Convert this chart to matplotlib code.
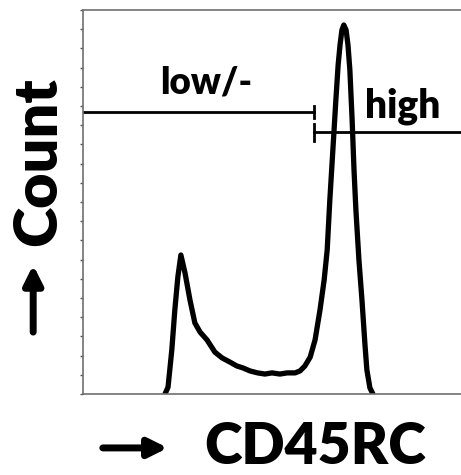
import numpy as np
import matplotlib
matplotlib.use("Agg")
import matplotlib.pyplot as plt

plt.rcParams['font.family'] = ['Lato', 'DejaVu Sans']

# Histogram trace (CD45RC channel vs count)
cd45rc = [217, 225, 235, 243, 251, 259, 270, 283, 296, 310, 328, 349, 368, 389,
          407, 423, 442, 462, 481, 500, 521, 540, 561, 574, 587, 601, 614, 627, 638, 646, 653,
          661, 669, 675, 680, 685, 690, 696, 701, 706, 712, 717, 722, 730, 738,
          746, 751, 759, 767]
count = [0, 1.8, 11.5, 21.9, 30.5, 36.2, 31.5, 24.5, 18.5, 16.1, 14.1, 10.9, 9.4, 8.3,
         7.3, 6.8, 6.0, 5.5, 5.2, 5.5, 5.2, 5.5, 5.5, 6.0, 7.3, 9.6, 14.1, 21.9, 29.7, 37.5, 50.5,
         63.5, 76.6, 85.7, 90.9, 94.8, 96.1, 94.8, 90.9, 84.4, 71.4, 58.3, 47.9, 34.9, 24.5,
         12.8, 6.3, 1.6, 0]

# Gates
gate_names = ["low/-", "high"]
gate_x = [(0, 612), (612, 1000)]
gate_y = [73.4, 68.2]

fig = plt.figure(figsize=(4.61, 4.75), dpi=100)
ax = fig.add_axes([0.180, 0.1705, 0.820, 0.8084])

ax.plot(cd45rc, count, color='black', lw=3.8, solid_joinstyle='round', solid_capstyle='round')

# gate lines with end caps
for (x0, x1), y in zip(gate_x, gate_y):
    ax.plot([x0, x1], [y, y], color='black', lw=2.0)
ax.plot([612, 612], [71.8, 75.0], color='black', lw=2.0)
ax.plot([612, 612], [66.0, 70.4], color='black', lw=2.0)

ax.text(327, 78.3, gate_names[0], ha='center', va='baseline', fontsize=26.5, fontweight='heavy')
ax.text(847, 72.1, gate_names[1], ha='center', va='baseline', fontsize=28, fontweight='heavy')

ax.set_xlim(0, 1000)
ax.set_ylim(0, 100)
ax.set_xticks([])
ax.set_yticks(np.arange(0, 101, 5))
ax.set_yticklabels([])
ax.tick_params(axis='y', length=2, width=1, color='#555555', direction='out')
for s in ['left', 'top', 'bottom']:
    ax.spines[s].set_color('#707070')
    ax.spines[s].set_linewidth(1.2)
ax.spines['right'].set_visible(False)

# axis labels with arrows
fig.text(0.083, 0.66, "Count", rotation=90, ha='center', va='center',
         fontsize=44, fontweight='heavy')
ax.annotate('', xy=(0.072, 0.448), xytext=(0.072, 0.295), xycoords='figure fraction',
            textcoords='figure fraction',
            arrowprops=dict(arrowstyle='-|>', color='black', lw=5, mutation_scale=28))
fig.text(0.684, 0.059, "CD45RC", ha='center', va='center', fontsize=41, fontweight='heavy')
ax.annotate('', xy=(0.37, 0.057), xytext=(0.217, 0.057), xycoords='figure fraction',
            textcoords='figure fraction',
            arrowprops=dict(arrowstyle='-|>', color='black', lw=5, mutation_scale=28))

plt.savefig("out.png", dpi=100)
